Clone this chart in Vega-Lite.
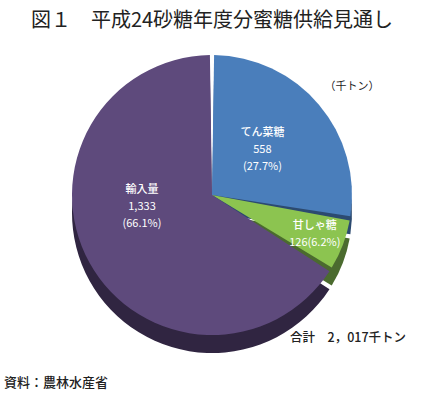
{
  "$schema": "https://vega.github.io/schema/vega-lite/v6.json",
  "width": 364,
  "height": 310,
  "autosize": "none",
  "padding": {"left": 30, "top": 40, "right": 52, "bottom": 46},
  "background": "white",
  "title": {
    "text": "図１　平成24砂糖年度分蜜糖供給見通し",
    "font": "Noto Sans CJK JP",
    "fontSize": 20,
    "fontWeight": "normal",
    "color": "#222222",
    "anchor": "middle",
    "offset": 9
  },
  "layer": [
    {
      "data": {
        "values": [
          {"item": "てん菜糖", "value": 558, "label1": "てん菜糖", "label2": "558", "label3": "(27.7%)", "ord": 1},
          {"item": "甘しゃ糖", "value": 126, "label1": "甘しゃ糖", "label2": "126(6.2%)", "label3": "", "ord": 2},
          {"item": "輸入量", "value": 1333, "label1": "輸入量", "label2": "1,333", "label3": "(66.1%)", "ord": 3}
        ]
      },
      "transform": [
        {"stack": "value", "groupby": [], "sort": [{"field": "ord", "order": "ascending"}], "as": ["v0", "v1"]},
        {"calculate": "(datum.v0 + datum.v1) / 2", "as": "vmid"}
      ],
      "layer": [
        {
          "mark": {"type": "arc", "outerRadius": 140, "yOffset": 18, "padAngle": 0.03},
          "encoding": {
            "theta": {"field": "v0", "type": "quantitative", "scale": {"domain": [0, 2017]}},
            "theta2": {"field": "v1"},
            "fill": {
              "field": "item", "type": "nominal", "legend": null,
              "scale": {"domain": ["てん菜糖", "甘しゃ糖", "輸入量"], "range": ["#2C4A70", "#4B6B2F", "#302541"]}
            }
          }
        },
        {
          "mark": {"type": "arc", "outerRadius": 140, "padAngle": 0.03},
          "encoding": {
            "theta": {"field": "v0", "type": "quantitative", "scale": {"domain": [0, 2017]}},
            "theta2": {"field": "v1"},
            "color": {
              "field": "item", "type": "nominal", "legend": null,
              "scale": {"domain": ["てん菜糖", "甘しゃ糖", "輸入量"], "range": ["#4A7EBB", "#8CC450", "#5E4A7C"]}
            }
          }
        },
        {
          "transform": [{"filter": "datum.ord == 1"}],
          "encoding": {"theta": {"field": "vmid", "type": "quantitative", "scale": {"domain": [0, 2017]}}},
          "layer": [
            {"mark": {"type": "text", "radius": 66, "font": "Noto Sans CJK JP", "fontSize": 11, "fontWeight": 500, "color": "white", "dy": -19}, "encoding": {"text": {"field": "label1"}}},
            {"mark": {"type": "text", "radius": 66, "font": "Noto Sans CJK JP", "fontSize": 11, "color": "white", "dy": -2}, "encoding": {"text": {"field": "label2"}}},
            {"mark": {"type": "text", "radius": 66, "font": "Noto Sans CJK JP", "fontSize": 11, "color": "white", "dy": 15}, "encoding": {"text": {"field": "label3"}}}
          ]
        },
        {
          "transform": [{"filter": "datum.ord == 2"}],
          "encoding": {"theta": {"field": "vmid", "type": "quantitative", "scale": {"domain": [0, 2017]}}},
          "layer": [
            {"mark": {"type": "text", "radius": 110, "font": "Noto Sans CJK JP", "fontSize": 11, "fontWeight": 500, "color": "white", "dy": -8}, "encoding": {"text": {"field": "label1"}}},
            {"mark": {"type": "text", "radius": 110, "font": "Noto Sans CJK JP", "fontSize": 11, "color": "white", "dy": 9}, "encoding": {"text": {"field": "label2"}}}
          ]
        },
        {
          "transform": [{"filter": "datum.ord == 3"}],
          "encoding": {"theta": {"field": "vmid", "type": "quantitative", "scale": {"domain": [0, 2017]}}},
          "layer": [
            {"mark": {"type": "text", "radius": 80, "font": "Noto Sans CJK JP", "fontSize": 11, "fontWeight": 500, "color": "white", "dy": -44}, "encoding": {"text": {"field": "label1"}}},
            {"mark": {"type": "text", "radius": 80, "font": "Noto Sans CJK JP", "fontSize": 11, "color": "white", "dy": -27}, "encoding": {"text": {"field": "label2"}}},
            {"mark": {"type": "text", "radius": 80, "font": "Noto Sans CJK JP", "fontSize": 11, "color": "white", "dy": -10}, "encoding": {"text": {"field": "label3"}}}
          ]
        }
      ],
      "resolve": {"scale": {"color": "independent", "fill": "independent"}}
    },
    {
      "data": {"values": [{"note": "（千トン）"}]},
      "mark": {"type": "text", "font": "Noto Sans CJK JP", "fontSize": 11, "color": "#222222", "x": 322, "y": 47},
      "encoding": {"text": {"field": "note"}}
    },
    {
      "data": {"values": [{"note": "合計　2，017千トン"}]},
      "mark": {"type": "text", "font": "Noto Sans CJK JP", "fontSize": 12.5, "fontWeight": 500, "color": "#222222", "x": 318, "y": 298},
      "encoding": {"text": {"field": "note"}}
    },
    {
      "data": {"values": [{"note": "資料：農林水産省"}]},
      "mark": {"type": "text", "font": "Noto Sans CJK JP", "fontSize": 13, "fontWeight": 500, "color": "#222222", "align": "left", "x": -26, "y": 343},
      "encoding": {"text": {"field": "note"}}
    }
  ],
  "config": {"view": {"stroke": null}}
}
